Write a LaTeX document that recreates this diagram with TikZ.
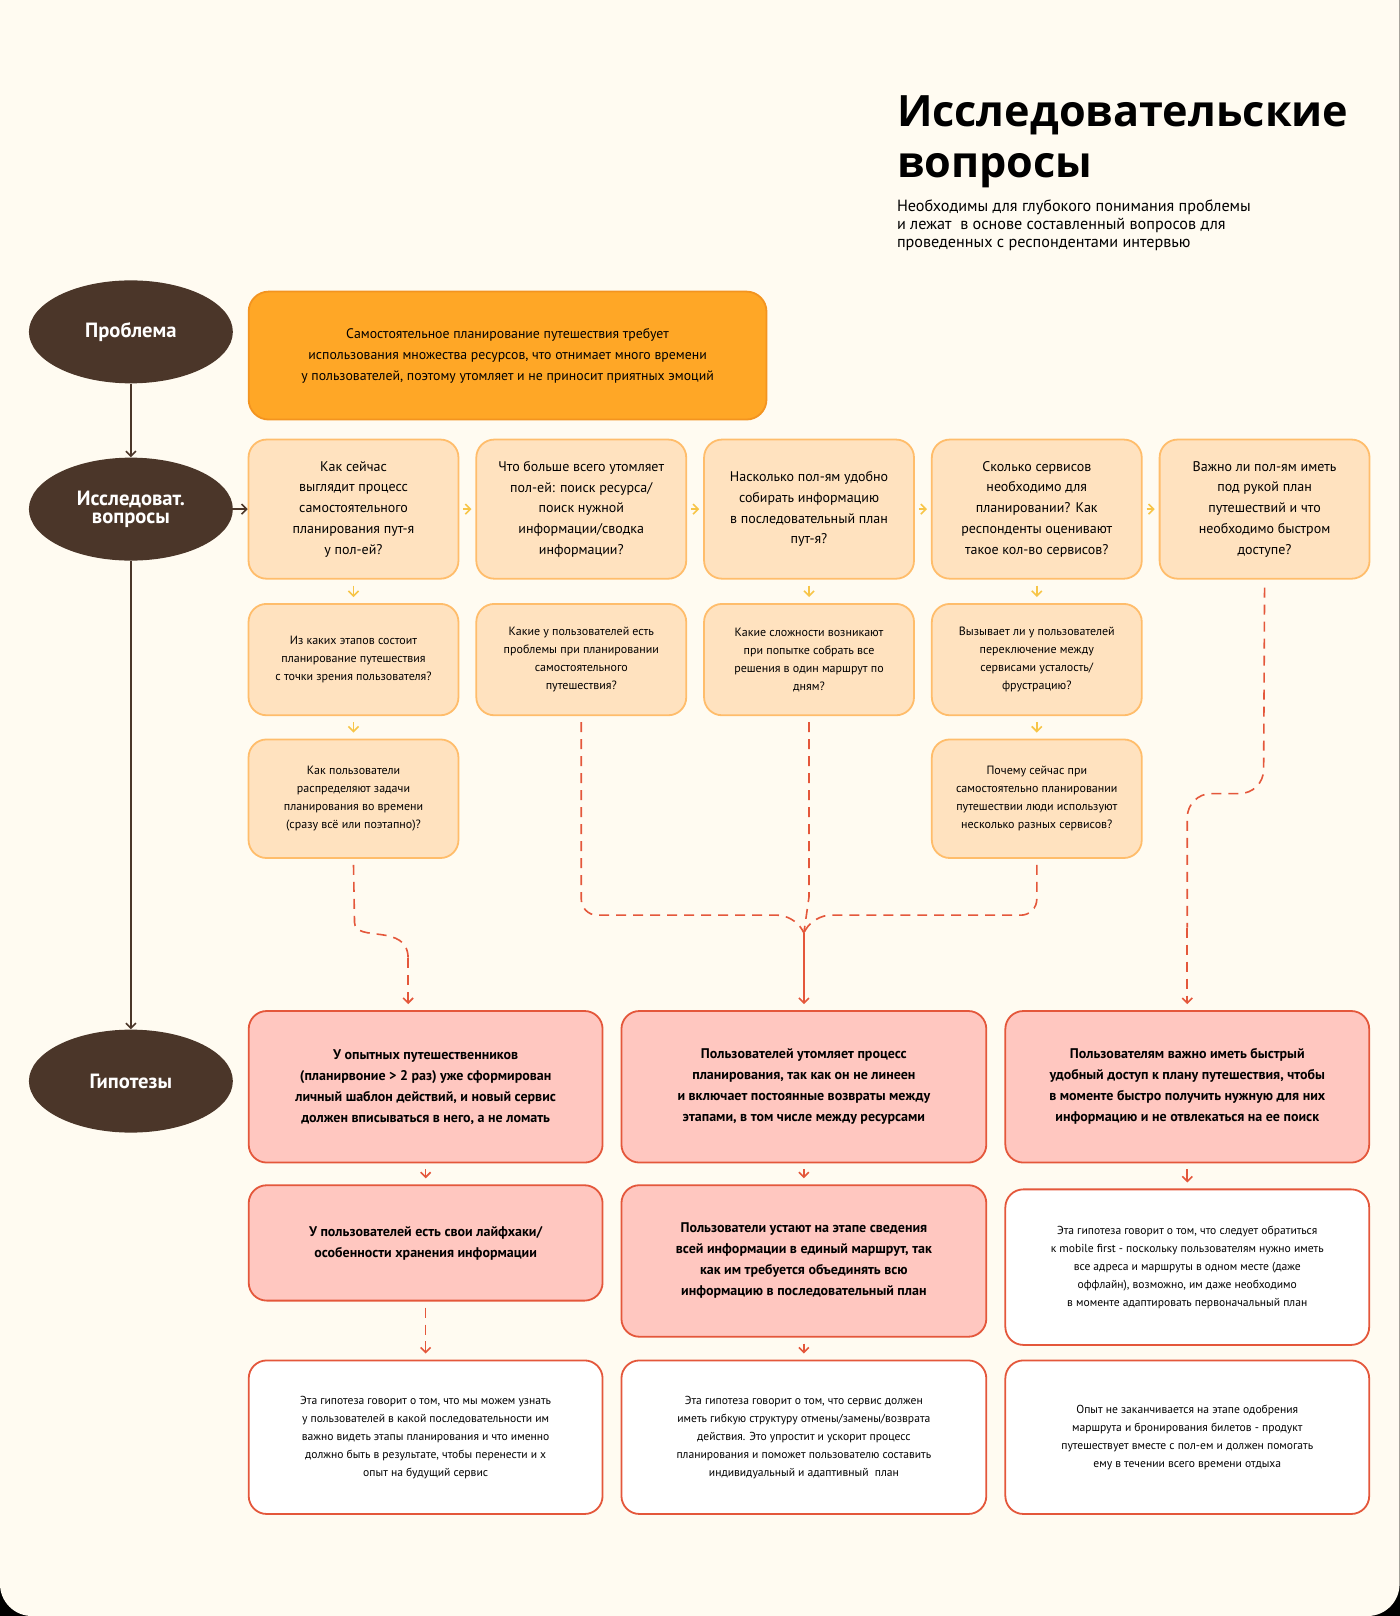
\documentclass[tikz,border=0pt]{standalone}
\usepackage{fontspec}
\setmainfont{PT Sans}
\newfontfamily\titlefont{Open Sans}
\usetikzlibrary{arrows.meta,positioning,shapes.geometric}

\definecolor{cream}{HTML}{FFFBF1}
\definecolor{brown}{HTML}{4B3629}
\definecolor{probfill}{HTML}{FFA726}
\definecolor{probline}{HTML}{F39420}
\definecolor{peach}{HTML}{FFE2BF}
\definecolor{peachline}{HTML}{FFBD6B}
\definecolor{yarrow}{HTML}{F7C548}
\definecolor{redline}{HTML}{E4573B}
\definecolor{pink}{HTML}{FFC7C0}

\tikzset{
    stage/.style={ellipse, fill=brown, text=white, minimum width=102pt, minimum height=51.5pt,
        font=\fontsize{10.3}{10}\selectfont\bfseries, align=center, inner sep=0pt},
    qbox/.style={draw=peachline, fill=peach, line width=0.9pt, rounded corners=9pt,
        minimum width=105pt, align=center, inner sep=2pt},
    qbig/.style={qbox, minimum height=69.6pt, font=\fontsize{7}{10.4}\selectfont},
    qsmall/.style={qbox, font=\fontsize{6}{9}\selectfont},
    hyp/.style={draw=redline, fill=pink, line width=0.9pt, rounded corners=9pt,
        align=center, font=\fontsize{7}{10.5}\selectfont\bfseries, inner sep=2pt},
    note/.style={hyp, fill=white, font=\fontsize{5.8}{9}\selectfont, minimum height=76.8pt},
    yarr/.style={-{Straight Barb[length=2.5pt,width=5pt]}, draw=yarrow, line width=0.8pt},
    rarr/.style={-{Straight Barb[length=2.5pt,width=5pt]}, draw=redline, line width=0.8pt},
    dashln/.style={draw=redline, line width=0.8pt, dash pattern=on 5pt off 3.5pt},
    barr/.style={-{Straight Barb[length=2.5pt,width=5pt]}, draw=brown, line width=0.8pt}
}

\begin{document}
\begin{tikzpicture}[x=0.5155pt, y=-0.5155pt]

    % Background
    \useasboundingbox (0,0) rectangle (1358,1568);
    \fill[black] (0,0) rectangle (1358,1568);
    \fill[cream, rounded corners=16pt] (0,-60) rectangle (1358,1568);

    % Title
    \node[anchor=north west, align=left, inner sep=0pt, font=\titlefont\fontsize{21.6}{25.5}\selectfont\bfseries] (title) at (870,92)
        {Исследовательские\\вопросы};
    \node[below=6pt of title.south west, anchor=north west, align=left, inner sep=0pt, font=\fontsize{8.1}{8.8}\selectfont] (subtitle)
        {Необходимы для глубокого понимания проблемы\\и лежат\ \ в основе составленный вопросов для\\проведенных с респондентами интервью};

    % Stages
    \node[stage] (prob) at (127,322) {Проблема};
    \node[stage] (ques) at (127,494) {Исследоват.\\[-1pt]вопросы};
    \node[stage] (hypo) at (127,1049) {Гипотезы};

    % Problem
    \node[draw=probline, fill=probfill, line width=0.9pt, rounded corners=10pt, minimum width=259pt,
        minimum height=64pt, align=center, font=\fontsize{6.9}{10.5}\selectfont] (problem) at (492.5,345)
        {Самостоятельное планирование путешествия требует\\использования множества ресурсов, что отнимает много времени\\у пользователей, поэтому утомляет и не приносит приятных эмоций};

    % Questions, first row
    \node[qbig] (qa) at (343,494) {Как сейчас\\выглядит процесс\\самостоятельного\\планирования пут-я\\у пол-ей?};
    \node[qbig] (qb) at (564,494) {Что больше всего утомляет\\пол-ей: поиск ресурса/\\поиск нужной\\информации/сводка\\информации?};
    \node[qbig] (qc) at (785,494) {Насколько пол-ям удобно\\собирать информацию\\в последовательный план\\пут-я?};
    \node[qbig] (qd) at (1006,494) {Сколько сервисов\\необходимо для\\планировании? Как\\респонденты оценивают\\такое кол-во сервисов?};
    \node[qbig] (qe) at (1227,494) {Важно ли пол-ям иметь\\под рукой план\\путешествий и что\\необходимо быстром\\доступе?};

    % Questions, second row
    \node[qsmall, minimum height=55.7pt] (qa2) at (343,640) {Из каких этапов состоит\\планирование путешествия\\с точки зрения пользователя?};
    \node[qsmall, minimum height=55.7pt] (qb2) at (564,640) {Какие у пользователей есть\\проблемы при планировании\\самостоятельного\\путешествия?};
    \node[qsmall, minimum height=55.7pt] (qc2) at (785,640) {Какие сложности возникают\\при попытке собрать все\\решения в один маршрут по\\дням?};
    \node[qsmall, minimum height=55.7pt] (qd2) at (1006,640) {Вызывает ли у пользователей\\переключение между\\сервисами усталость/\\фрустрацию?};

    % Questions, third row
    \node[qsmall, minimum height=59.3pt] (qa3) at (343,775) {Как пользователи\\распределяют задачи\\планирования во времени\\(сразу всё или поэтапно)?};
    \node[qsmall, minimum height=59.3pt] (qd3) at (1006,775) {Почему сейчас при\\самостоятельно планировании\\путешествии люди используют\\несколько разных сервисов?};

    % Hypotheses
    \node[hyp, minimum width=177pt, minimum height=75.8pt] (ha) at (413,1054.5) {У опытных путешественников\\(планирвоние > 2 раз) уже сформирован\\личный шаблон действий, и новый сервис\\должен вписываться в него, а не ломать};
    \node[hyp, minimum width=182.5pt, minimum height=75.8pt] (hb) at (780,1054.5) {Пользователей утомляет процесс\\планирования, так как он не линеен\\и включает постоянные возвраты между\\этапами, в том числе между ресурсами};
    \node[hyp, minimum width=182pt, minimum height=75.8pt] (hc) at (1152,1054.5) {Пользователям важно иметь быстрый\\удобный доступ к плану путешествия, чтобы\\в моменте быстро получить нужную для них\\информацию и не отвлекаться на ее поиск};

    \node[hyp, minimum width=177pt, minimum height=57.7pt] (ha2) at (413,1206) {У пользователей есть свои лайфхаки/\\особенности хранения информации};
    \node[hyp, minimum width=182.5pt, minimum height=75.8pt] (hb2) at (780,1223.5) {Пользователи устают на этапе сведения\\всей информации в единый маршрут, так\\как им требуется объединять всю\\информацию в последовательный план};
    \node[note, minimum width=182pt, minimum height=77.8pt] (hc2) at (1152,1229.5) {Эта гипотеза говорит о том, что следует обратиться\\к mobile first - поскольку пользователям нужно иметь\\все адреса и маршруты в одном месте (даже\\оффлайн), возможно, им даже необходимо\\в моменте адаптировать первоначальный план};

    \node[note, minimum width=177pt] (ha3) at (413,1394.5) {Эта гипотеза говорит о том, что мы можем узнать\\у пользователей в какой последовательности им\\важно видеть этапы планирования и что именно\\должно быть в результате, чтобы перенести и х\\опыт на будущий сервис};
    \node[note, minimum width=182.5pt] (hb3) at (780,1394.5) {Эта гипотеза говорит о том, что сервис должен\\иметь гибкую структуру отмены/замены/возврата\\действия. Это упростит и ускорит процесс\\планирования и поможет пользователю составить\\индивидуальный и адаптивный\ \ план};
    \node[note, minimum width=182pt] (hc3) at (1152,1394.5) {Опыт не заканчивается на этапе одобрения\\маршрута и бронирования билетов - продукт\\путешествует вместе с пол-ем и должен помогать\\ему в течении всего времени отдыха};

    % Stage arrows
    \draw[barr] (prob) -- (ques);
    \draw[barr] (ques) -- (hypo);
    \draw[barr] (ques.east) -- (qa.west);

    % Yellow arrows
    \foreach \a/\b in {qa/qb, qb/qc, qc/qd, qd/qe}
        \draw[yarr] ([xshift=2pt]\a.east) -- ([xshift=-2pt]\b.west);
    \foreach \a/\b in {qa/qa2, qa2/qa3, qc/qc2, qd/qd2, qd2/qd3}
        \draw[yarr] ([yshift=-3pt]\a.south) -- ([yshift=3pt]\b.north);

    % Dashed connectors
    \coordinate (merge) at (780,905);
    \coordinate (bend) at (396,930);
    \draw[dashln] ([yshift=-3pt]qa3.south) -- (344,895) .. controls (344,915) and (396,895) .. (bend);
    \draw[rarr, dash pattern=on 5pt off 3.5pt] (bend) -- ([yshift=3pt]bend |- ha.north);
    \draw[dashln, rounded corners=8pt] ([yshift=-3pt]qb2.south) -- (564,888) -- (770,888) -- (merge);
    \draw[dashln, rounded corners=8pt] ([yshift=-3pt]qd3.south) -- (1006,888) -- (790,888) -- (merge);
    \draw[dashln] ([yshift=-3pt]qc2.south) -- (785,870) -- (merge);
    \draw[rarr] (merge) -- ([yshift=3pt]hb.north);
    \draw[dashln, rounded corners=12pt] ([yshift=-4pt]qe.south) -- (1226,770) -- (1152,770) -- (1152,900);
    \draw[rarr, dash pattern=on 5pt off 3.5pt] (1152,900) -- ([yshift=3pt]hc.north);

    % Red arrows between hypotheses
    \foreach \a/\b in {ha/ha2, hb/hb2, hc/hc2, hb2/hb3}
        \draw[rarr] ([yshift=-3pt]\a.south) -- ([yshift=3pt]\b.north);
    \draw[rarr, dash pattern=on 5pt off 3.5pt] ([yshift=-3pt]ha2.south) -- ([yshift=3pt]ha3.north);

\end{tikzpicture}
\end{document}
